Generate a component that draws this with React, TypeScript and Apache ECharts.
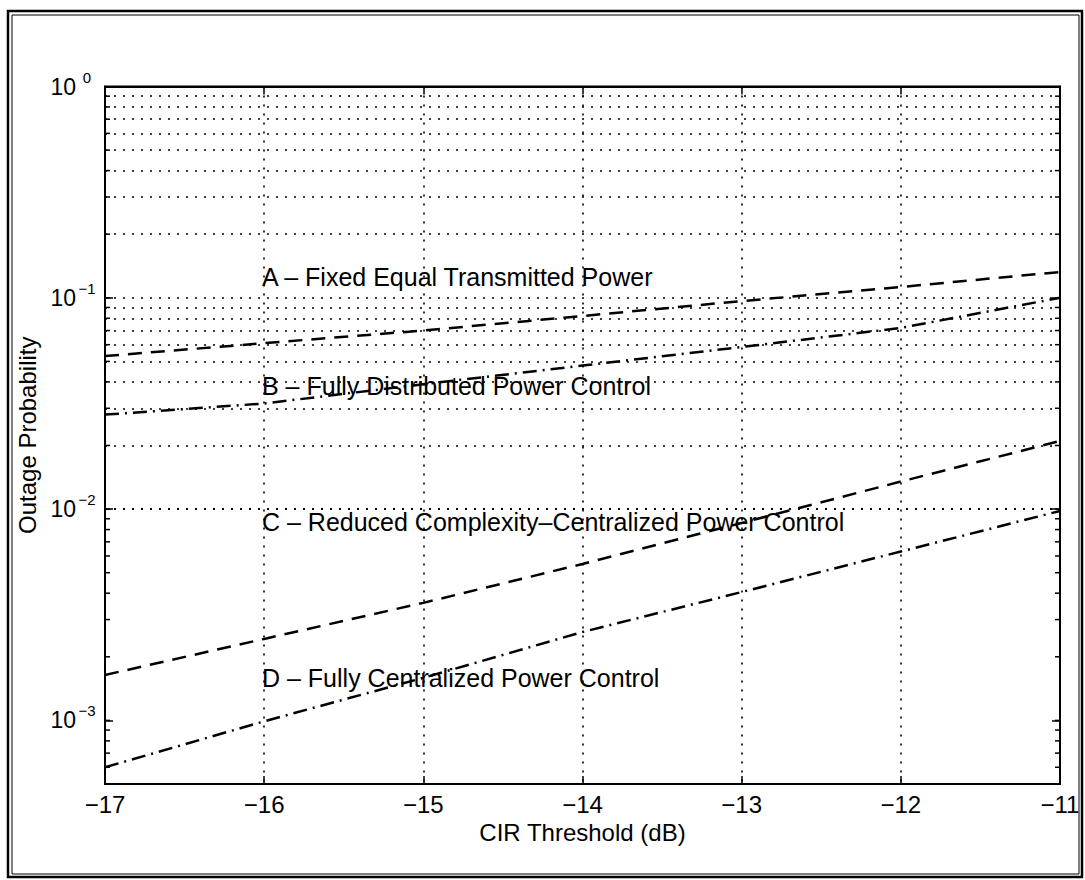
import React, { useEffect, useRef } from "react";
import * as echarts from "echarts";

// CIR threshold (dB)
const cirThreshold = [-17, -16, -15, -14, -13, -12, -11];
// Outage probability curves
const seriesA = [0.053, 0.061, 0.07, 0.082, 0.0965, 0.1125, 0.1325];
const seriesB = [0.028, 0.0316, 0.039, 0.0478, 0.0585, 0.072, 0.1];
const seriesC = [0.00164, 0.00243, 0.0036, 0.0055, 0.0086, 0.0135, 0.021];
const seriesD = [0.0006, 0.00099, 0.00159, 0.00262, 0.00405, 0.0063, 0.0098];

const curveNames = [
  "A – Fixed Equal Transmitted Power",
  "B – Fully Distributed Power Control",
  "C – Reduced Complexity–Centralized Power Control",
  "D – Fully Centralized Power Control",
];

// log grid lines (dotted)
const yGridValues = [
  0.0005, 0.0006, 0.0007, 0.0008, 0.0009,
  0.001, 0.002, 0.003, 0.004, 0.005, 0.006, 0.007, 0.008, 0.009,
  0.01, 0.02, 0.03, 0.04, 0.05, 0.06, 0.07, 0.08, 0.09,
  0.1, 0.2, 0.3, 0.4, 0.5, 0.6, 0.7, 0.8, 0.9,
];

const xTitle = "CIR Threshold (dB)";
const yTitle = "Outage Probability";

const FONT = "'Liberation Sans', Arial, Helvetica, sans-serif";

function zip(xs: number[], ys: number[]) {
  return xs.map((x, i) => [x, ys[i]]);
}

export default function App() {
  const ref = useRef<HTMLDivElement>(null);

  useEffect(() => {
    if (!ref.current) return;
    const chart = echarts.init(ref.current, undefined, { renderer: "svg" });

    const dashed = [14, 9];
    const dashDot = [14, 6, 2, 6];
    const dotted = [2, 7];
    const xMin = cirThreshold[0];
    const xMax = cirThreshold[cirThreshold.length - 1];

    const minusFmt = (v: number) => (v < 0 ? "\u2212" + Math.abs(v) : String(v));

    const option: any = {
      animation: false,
      backgroundColor: "#fff",
      textStyle: { fontFamily: FONT, color: "#000" },
      grid: {
        left: 105,
        right: 25,
        top: 86.5,
        bottom: 96,
        show: true,
        borderColor: "#000",
        borderWidth: 2,
        backgroundColor: "transparent",
      },
      xAxis: [
        {
          type: "value",
          min: xMin,
          max: xMax,
          interval: 1,
          name: xTitle,
          nameLocation: "middle",
          nameGap: 33,
          nameTextStyle: { fontSize: 24, fontFamily: FONT, color: "#000" },
          axisLine: { show: true, lineStyle: { color: "#000", width: 2 } },
          axisTick: { show: true, inside: true, length: 8, lineStyle: { color: "#000", width: 1.5 } },
          axisLabel: {
            show: true,
            margin: 8,
            fontSize: 24,
            fontFamily: FONT,
            color: "#000",
            formatter: minusFmt,
          },
          splitLine: { show: true, lineStyle: { color: "#000", width: 1.6, type: dotted } },
        },
        {
          type: "value",
          position: "top",
          min: xMin,
          max: xMax,
          interval: 1,
          axisLine: { show: true, lineStyle: { color: "#000", width: 2 } },
          axisTick: { show: true, inside: true, length: 8, lineStyle: { color: "#000", width: 1.5 } },
          axisLabel: { show: false },
          splitLine: { show: false },
        },
      ],
      yAxis: [
        {
          type: "log",
          logBase: 10,
          min: 0.0005,
          max: 1,
          name: yTitle,
          nameLocation: "middle",
          nameGap: 60,
          nameTextStyle: { fontSize: 24, fontFamily: FONT, color: "#000" },
          axisLine: { show: true, lineStyle: { color: "#000", width: 2 } },
          axisTick: { show: true, inside: true, length: 8, lineStyle: { color: "#000", width: 1.5 } },
          axisLabel: {
            show: true,
            margin: 7,
            fontFamily: FONT,
            color: "#000",
            formatter: (v: number) => {
              const e = Math.log10(v);
              const r = Math.round(e);
              if (Math.abs(e - r) > 0.01) return "";
              const sup = r < 0 ? "\u2212" + Math.abs(r) : String(r);
              return "{base|10}{sup|" + sup + "}";
            },
            rich: {
              base: { fontSize: 23, lineHeight: 34, fontFamily: FONT, color: "#000" },
              sup: {
                fontSize: 15,
                lineHeight: 15,
                verticalAlign: "top",
                width: 22,
                align: "left",
                fontFamily: FONT,
                color: "#000",
              },
            },
          },
          splitLine: { show: false },
        },
        {
          type: "log",
          logBase: 10,
          min: 0.0005,
          max: 1,
          position: "right",
          axisLine: { show: true, lineStyle: { color: "#000", width: 2 } },
          axisTick: { show: true, inside: true, length: 8, lineStyle: { color: "#000", width: 1.5 } },
          axisLabel: { show: false },
          splitLine: { show: false },
        },
      ],
      series: [
        {
          name: "grid",
          type: "line",
          data: [],
          silent: true,
          markLine: {
            silent: true,
            symbol: "none",
            label: { show: false },
            lineStyle: { color: "#000", width: 1.6, type: dotted },
            data: yGridValues.map((v) => ({ yAxis: v })),
          },
        },
        {
          name: "minorTicks",
          type: "custom",
          silent: true,
          data: yGridValues.map((v) => [xMin, v]),
          encode: { x: 0, y: 1 },
          renderItem: (params: any, api: any) => {
            const v = api.value(1);
            const p = api.coord([xMin, v]);
            const q = api.coord([xMax, v]);
            const st = { stroke: "#000", lineWidth: 1.5 };
            return {
              type: "group",
              children: [
                { type: "line", shape: { x1: p[0], y1: p[1], x2: p[0] + 5, y2: p[1] }, style: st },
                { type: "line", shape: { x1: q[0] - 5, y1: q[1], x2: q[0], y2: q[1] }, style: st },
              ],
            };
          },
        },
        {
          name: curveNames[0],
          type: "line",
          data: zip(cirThreshold, seriesA),
          showSymbol: false,
          lineStyle: { color: "#000", width: 2.5, type: dashed },
        },
        {
          name: curveNames[1],
          type: "line",
          data: zip(cirThreshold, seriesB),
          showSymbol: false,
          lineStyle: { color: "#000", width: 2.5, type: dashDot },
        },
        {
          name: curveNames[2],
          type: "line",
          data: zip(cirThreshold, seriesC),
          showSymbol: false,
          lineStyle: { color: "#000", width: 2.5, type: dashed },
        },
        {
          name: curveNames[3],
          type: "line",
          data: zip(cirThreshold, seriesD),
          showSymbol: false,
          lineStyle: { color: "#000", width: 2.5, type: dashDot },
        },
      ],
      graphic: [
        {
          type: "rect",
          shape: { x: 8, y: 11, width: 1074, height: 866 },
          style: { fill: "none", stroke: "#000", lineWidth: 2.5 },
          silent: true,
        },
        {
          type: "rect",
          shape: { x: 12, y: 15, width: 1067, height: 859 },
          style: { fill: "none", stroke: "#000", lineWidth: 1 },
          silent: true,
        },
        ...[277, 386, 522, 678].map((y, i) => ({
          type: "text",
          x: 262,
          y,
          silent: true,
          style: {
            text: curveNames[i],
            fontSize: 25,
            fontFamily: FONT,
            fill: "#000",
            align: "left",
            verticalAlign: "middle",
          },
        })),
      ],
    };

    chart.setOption(option);
    return () => chart.dispose();
  }, []);

  return (
    <div
      ref={ref}
      style={{ position: "absolute", left: 0, top: 0, width: 1085, height: 880, background: "#fff" }}
    />
  );
}
